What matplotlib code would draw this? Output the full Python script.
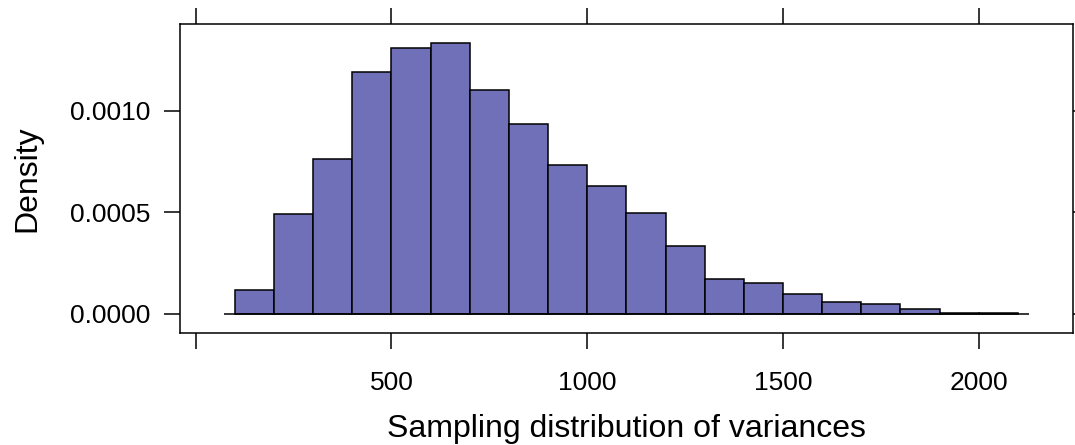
import matplotlib.pyplot as plt

plt.rcParams['font.family'] = ['Liberation Sans', 'DejaVu Sans']

# bin edges of the histogram (width 100) and density of each bin
bin_left = [100, 200, 300, 400, 500, 600, 700, 800, 900, 1000,
            1100, 1200, 1300, 1400, 1500, 1600, 1700, 1800, 1900, 2000]
bin_width = 100
density = [0.000118, 0.000491, 0.000765, 0.001191, 0.001309, 0.001335,
           0.001105, 0.000934, 0.000731, 0.000632, 0.000496, 0.000335,
           0.000171, 0.000151, 0.000095, 0.000059, 0.000049, 0.000025,
           0.000005, 0.000003]

x_ticks = [0, 500, 1000, 1500, 2000]
x_tick_labels = ['', '500', '1000', '1500', '2000']
y_ticks = [0.0, 0.0005, 0.0010]
y_tick_labels = ['0.0000', '0.0005', '0.0010']

fig = plt.figure(figsize=(10.75, 4.45), dpi=100)
ax = fig.add_axes([0.1674, 0.2524, 0.8305, 0.6937])

ax.bar(bin_left, density, width=bin_width, align='edge',
       color='#7070b8', edgecolor='black', linewidth=1.1)

# baseline like lattice draws under the bars
lo = bin_left[0]
hi = bin_left[-1] + bin_width
ext = 0.014 * (hi - lo)
ax.hlines(0, lo - ext, hi + ext, color='black', linewidth=1.1)

# lattice-style padded limits (7% of range)
ax.set_xlim(lo - 0.07 * (hi - lo), hi + 0.07 * (hi - lo))
ymax = max(density)
ax.set_ylim(-0.07 * ymax, 1.07 * ymax)

ax.set_xticks(x_ticks)
ax.set_xticklabels(x_tick_labels)
ax.set_yticks(y_ticks)
ax.set_yticklabels(y_tick_labels)
ax.tick_params(direction='out', length=11.5, width=1.1, labelsize=19,
               top=True, right=True)
ax.tick_params(axis='x', pad=16)
ax.tick_params(axis='y', pad=10)

for s in ax.spines.values():
    s.set_linewidth(1.1)

ax.set_xlabel('Sampling distribution of variances', fontsize=23, labelpad=14)
ax.set_ylabel('Density', fontsize=23, labelpad=20)

fig.savefig('out.png', dpi=100)
